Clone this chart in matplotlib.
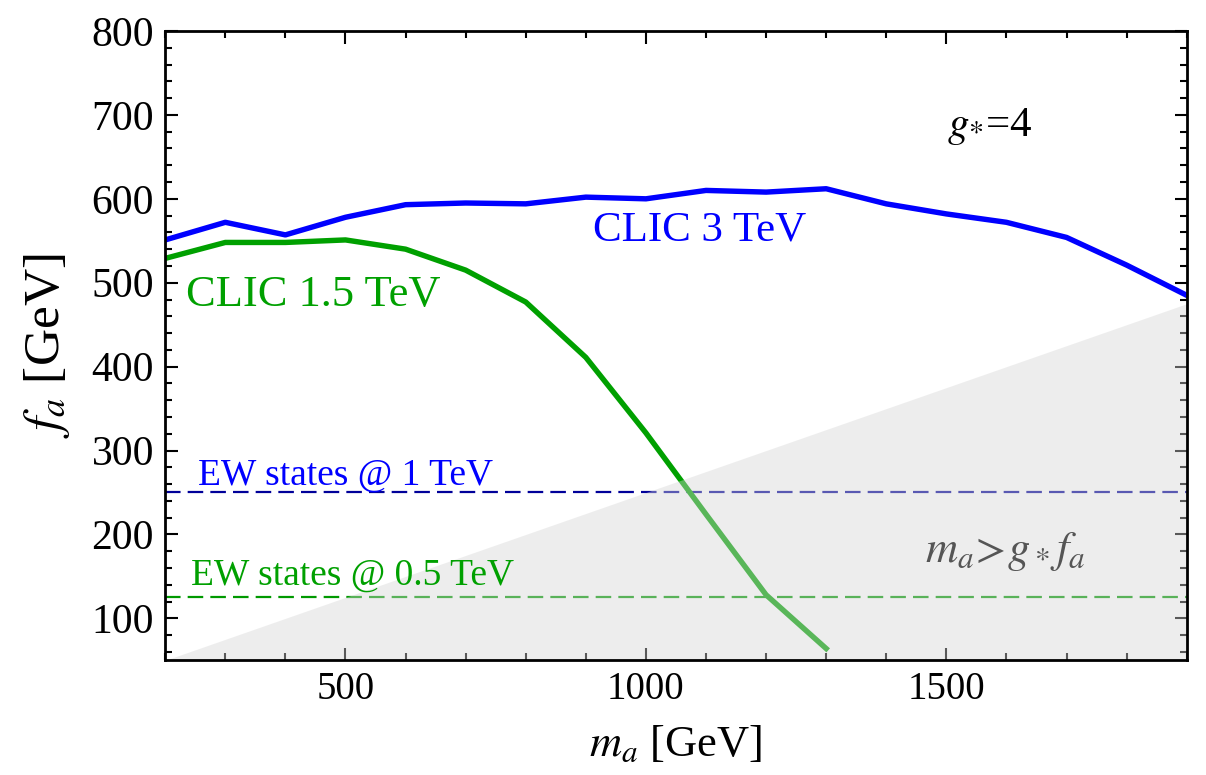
import matplotlib
matplotlib.use("Agg")
import matplotlib.pyplot as plt
from matplotlib.ticker import MultipleLocator
import numpy as np

plt.rcParams["font.family"] = ["Liberation Serif", "DejaVu Serif"]
plt.rcParams["mathtext.fontset"] = "stix"

# CLIC 3 TeV reach
m_clic3 = [200, 300, 400, 500, 600, 700, 800, 900, 1000, 1100, 1200, 1300,
           1400, 1500, 1600, 1700, 1800, 1900]
f_clic3 = [551, 572, 557, 578, 593, 595, 594, 602, 600, 610, 608, 612,
           594, 582, 572, 554, 521, 485]

# CLIC 1.5 TeV reach
m_clic15 = [200, 300, 400, 500, 600, 700, 800, 900, 1000, 1100, 1200, 1300]
f_clic15 = [529, 548, 548, 551, 540, 515, 477, 411, 321, 224, 128, 64]

# EW states lines
f_ew1 = 250
f_ew05 = 125

g_star = 4
m_range = [200, 1900]

fig = plt.figure(figsize=(12.06, 7.75), dpi=100)
ax = fig.add_axes([0.137, 0.148, 0.847, 0.812])

ax.plot(m_clic3, f_clic3, color="#0000ff", lw=3.9, solid_joinstyle="round", zorder=3)
ax.plot(m_clic15, f_clic15, color="#00a000", lw=3.9, solid_joinstyle="round", zorder=3)
ax.axhline(f_ew1, color="#000099", lw=1.6, ls=(0, (7, 3.2)), zorder=2)
ax.axhline(f_ew05, color="#009900", lw=1.6, ls=(0, (7, 3.2)), zorder=2)

# excluded region m_a > g_* f_a, drawn on top with transparency
mm = np.array(m_range, dtype=float)
ax.fill_between(mm, 0, mm / g_star, color=(0.84, 0.84, 0.84), alpha=0.42,
                lw=0, zorder=4)

txt = dict(ha="center", va="center", zorder=5)
ax.text(1090, 563, "CLIC 3 TeV", color="#0000ff", fontsize=31, **txt)
ax.text(235, 485, "CLIC 1.5 TeV", color="#00a000", fontsize=32,
        ha="left", va="center", zorder=5)
ax.text(255, 270, "EW states @ 1 TeV", color="#0000ff", fontsize=27,
        ha="left", va="center", zorder=5)
ax.text(243, 151, "EW states @ 0.5 TeV", color="#00a000", fontsize=27,
        ha="left", va="center", zorder=5)
ax.text(1573, 686, r"$g_{*}$=4", color="black", fontsize=31, **txt)
ax.text(1598, 180, r"$m_a\!>\!g_* f_a$", color="#555555", fontsize=32, **txt)

ax.set_xlim(*m_range)
ax.set_ylim(50, 800)
ax.xaxis.set_major_locator(MultipleLocator(500))
ax.xaxis.set_minor_locator(MultipleLocator(100))
ax.yaxis.set_major_locator(MultipleLocator(100))
ax.yaxis.set_minor_locator(MultipleLocator(20))
ax.tick_params(which="both", direction="in", top=True, right=True,
               width=1.5, pad=8)
ax.tick_params(axis="y", labelsize=30)
ax.tick_params(axis="x", labelsize=28)
ax.tick_params(which="major", length=9)
ax.tick_params(which="minor", length=5)
for s in ax.spines.values():
    s.set_linewidth(2)
    s.set_zorder(6)

ax.set_xlabel(r"$m_a$ [GeV]", fontsize=32, labelpad=12)
ax.set_ylabel(r"$f_a$ [GeV]", fontsize=37, labelpad=14)

fig.savefig("out.png", dpi=100)
